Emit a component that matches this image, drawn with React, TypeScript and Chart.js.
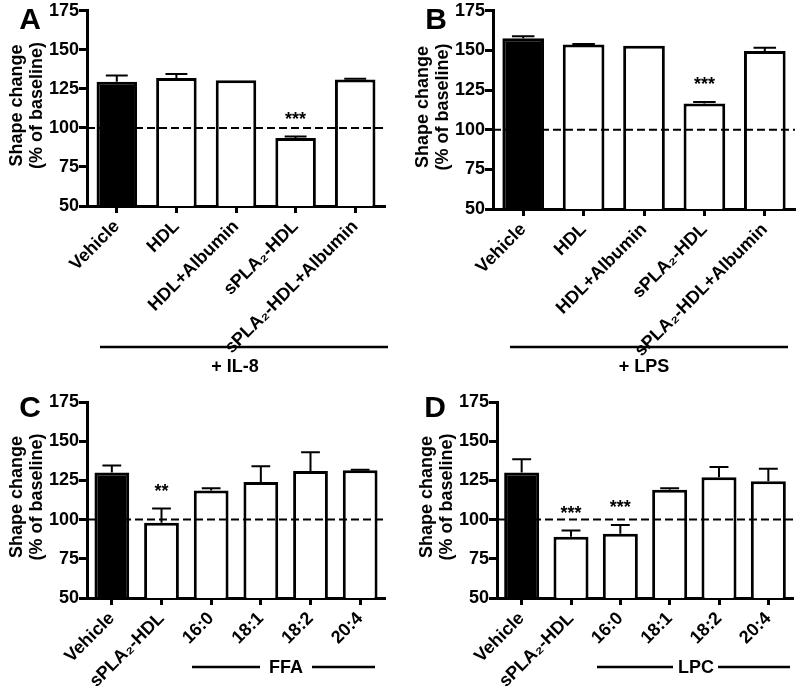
import React, { useEffect, useRef } from 'react';
import { Chart, registerables } from 'chart.js';

Chart.register(...registerables);

const topCategories = ['Vehicle', 'HDL', 'HDL+Albumin', 'sPLA₂-HDL', 'sPLA₂-HDL+Albumin'];
const bottomCategories = ['Vehicle', 'sPLA₂-HDL', '16:0', '18:1', '18:2', '20:4'];

const valuesA = [129.5, 132, 130.5, 93.5, 131];
const errorsA = [4, 2.5, 0, 1, 0.5];
const starsA = ['', '', '', '***', ''];

const valuesB = [157.7, 153.7, 153, 116.5, 149.7];
const errorsB = [1.2, 0.3, 0, 1, 2];
const starsB = ['', '', '', '***', ''];

const valuesC = [130, 98, 118.5, 124, 131, 131.5];
const errorsC = [4.5, 9, 1.5, 10, 12, 0.3];
const starsC = ['', '**', '', '', '', ''];

const valuesD = [130, 89, 91, 119, 127, 124.5];
const errorsD = [8.5, 4, 5.5, 1, 6.5, 8];
const starsD = ['', '***', '***', '', '', ''];

const yMin = 50;
const yMax = 175;
const yStep = 25;
const baselineValue = 100;
const yTitleLines = ['Shape change', '(% of baseline)'];

const FONT = "'Liberation Sans', Arial, Helvetica, sans-serif";

type Group = { text: string; tx: number; ty: number; lines: number[][] };
type PanelProps = {
  letter: string;
  letterX: number;
  letterY: number;
  labels: string[];
  values: number[];
  errors: number[];
  stars: string[];
  left: number;
  top: number;
  width: number;
  height: number;
  area: { l: number; r: number; t: number; b: number };
  group: Group;
  barPct: number;
};

function Panel(p: PanelProps) {
  const ref = useRef<HTMLCanvasElement>(null);
  useEffect(() => {
    if (!ref.current) return;
    const decor = {
      id: 'decor',
      afterDatasetsDraw(chart: any) {
        const ctx = chart.ctx;
        const ys = chart.scales.y;
        const ca = chart.chartArea;
        const meta = chart.getDatasetMeta(0);
        ctx.save();
        const yb = ys.getPixelForValue(baselineValue);
        ctx.strokeStyle = '#000';
        ctx.lineWidth = 2;
        ctx.setLineDash([8, 4]);
        ctx.beginPath();
        ctx.moveTo(ca.left, yb);
        ctx.lineTo(ca.right, yb);
        ctx.stroke();
        ctx.setLineDash([]);
        p.values.forEach((v, i) => {
          const el = meta.data[i];
          const x = el.x;
          const yTop = ys.getPixelForValue(v);
          const yErr = ys.getPixelForValue(v + p.errors[i]);
          const half = el.width * 0.27;
          if (p.errors[i] > 0) {
            ctx.lineWidth = 2;
            ctx.beginPath();
            ctx.moveTo(x, yTop);
            ctx.lineTo(x, yErr);
            ctx.moveTo(x - half, yErr);
            ctx.lineTo(x + half, yErr);
            ctx.stroke();
          }
          if (p.stars[i]) {
            ctx.fillStyle = '#000';
            ctx.font = `bold 18px ${FONT}`;
            ctx.textAlign = 'center';
            ctx.textBaseline = 'alphabetic';
            ctx.fillText(p.stars[i], x, yErr - 12);
          }
        });
        ctx.restore();
      },
      afterDraw(chart: any) {
        const ctx = chart.ctx;
        const ca = chart.chartArea;
        ctx.save();
        ctx.fillStyle = '#000';
        ctx.font = `bold 30px ${FONT}`;
        ctx.textAlign = 'center';
        ctx.textBaseline = 'alphabetic';
        ctx.fillText(p.letter, p.letterX, p.letterY);
        ctx.font = `bold 18px ${FONT}`;
        const cy = (ca.top + ca.bottom) / 2 - 3;
        [ca.left - 70, ca.left - 50].forEach((x, k) => {
          ctx.save();
          ctx.translate(x, cy);
          ctx.rotate(-Math.PI / 2);
          ctx.textAlign = 'center';
          ctx.textBaseline = 'middle';
          ctx.fillText(yTitleLines[k], 0, 0);
          ctx.restore();
        });
        ctx.strokeStyle = '#000';
        ctx.lineWidth = 2.5;
        p.group.lines.forEach(([x1, x2, y]) => {
          ctx.beginPath();
          ctx.moveTo(x1, y);
          ctx.lineTo(x2, y);
          ctx.stroke();
        });
        ctx.textAlign = 'center';
        ctx.textBaseline = 'middle';
        ctx.fillText(p.group.text, p.group.tx, p.group.ty);
        ctx.restore();
      },
    };
    const chart = new Chart(ref.current, {
      type: 'bar',
      data: {
        labels: p.labels,
        datasets: [
          {
            data: p.values,
            backgroundColor: p.values.map((_, i) => (i === 0 ? '#000' : '#fff')),
            borderColor: '#000',
            borderWidth: 3,
            categoryPercentage: 1,
            barPercentage: p.barPct,
          },
        ],
      },
      options: {
        animation: false,
        responsive: false,
        devicePixelRatio: 1,
        layout: { padding: { left: 0, right: p.width - p.area.r, top: p.area.t, bottom: 0 } },
        plugins: { legend: { display: false }, tooltip: { enabled: false } },
        scales: {
          x: {
            afterFit: (s: any) => {
              s.height = p.height - p.area.b;
            },
            border: { display: true, color: '#000', width: 3 },
            grid: {
              display: true,
              drawOnChartArea: false,
              drawTicks: true,
              tickLength: 7,
              tickWidth: 3,
              tickColor: '#000',
              offset: false,
            },
            ticks: {
              color: '#000',
              font: { family: FONT, size: 18, weight: 'bold' },
              minRotation: 45,
              maxRotation: 45,
              autoSkip: false,
              padding: 3,
            },
          },
          y: {
            min: yMin,
            max: yMax,
            afterFit: (s: any) => {
              s.width = p.area.l;
            },
            border: { display: true, color: '#000', width: 3 },
            grid: {
              display: true,
              drawOnChartArea: false,
              drawTicks: true,
              tickLength: 8,
              tickWidth: 3,
              tickColor: '#000',
            },
            ticks: {
              stepSize: yStep,
              color: '#000',
              font: { family: FONT, size: 18, weight: 'bold' },
              padding: 0,
            },
          },
        },
      },
      plugins: [decor],
    } as any);
    return () => chart.destroy();
  }, []);
  return (
    <div style={{ position: 'absolute', left: p.left, top: p.top, width: p.width, height: p.height }}>
      <canvas ref={ref} width={p.width} height={p.height} style={{ width: p.width, height: p.height, display: 'block' }} />
    </div>
  );
}

export default function App() {
  return (
    <div style={{ position: 'fixed', left: 0, top: 0, width: 800, height: 686, background: '#fff', overflow: 'hidden' }}>
      <Panel
        letter="A" letterX={30} letterY={29}
        labels={topCategories} values={valuesA} errors={errorsA} stars={starsA}
        left={0} top={0} width={400} height={385}
        area={{ l: 87, r: 385, t: 9, b: 206 }}
        barPct={0.68}
        group={{ text: '+ IL-8', tx: 235, ty: 367, lines: [[100, 388, 347]] }}
      />
      <Panel
        letter="B" letterX={36} letterY={29}
        labels={topCategories} values={valuesB} errors={errorsB} stars={starsB}
        left={400} top={0} width={400} height={385}
        area={{ l: 93, r: 395, t: 10, b: 209 }}
        barPct={0.69}
        group={{ text: '+ LPS', tx: 244, ty: 367, lines: [[110, 388, 347]] }}
      />
      <Panel
        letter="C" letterX={30} letterY={32}
        labels={bottomCategories} values={valuesC} errors={errorsC} stars={starsC}
        left={0} top={385} width={400} height={301}
        area={{ l: 87, r: 385, t: 17, b: 213 }}
        barPct={0.7}
        group={{ text: 'FFA', tx: 286, ty: 283, lines: [[192, 260, 282], [312, 375, 282]] }}
      />
      <Panel
        letter="D" letterX={35} letterY={32}
        labels={bottomCategories} values={valuesD} errors={errorsD} stars={starsD}
        left={400} top={385} width={400} height={301}
        area={{ l: 97, r: 393, t: 17, b: 213 }}
        barPct={0.71}
        group={{ text: 'LPC', tx: 296, ty: 283, lines: [[197, 273, 282], [318, 390, 282]] }}
      />
    </div>
  );
}
